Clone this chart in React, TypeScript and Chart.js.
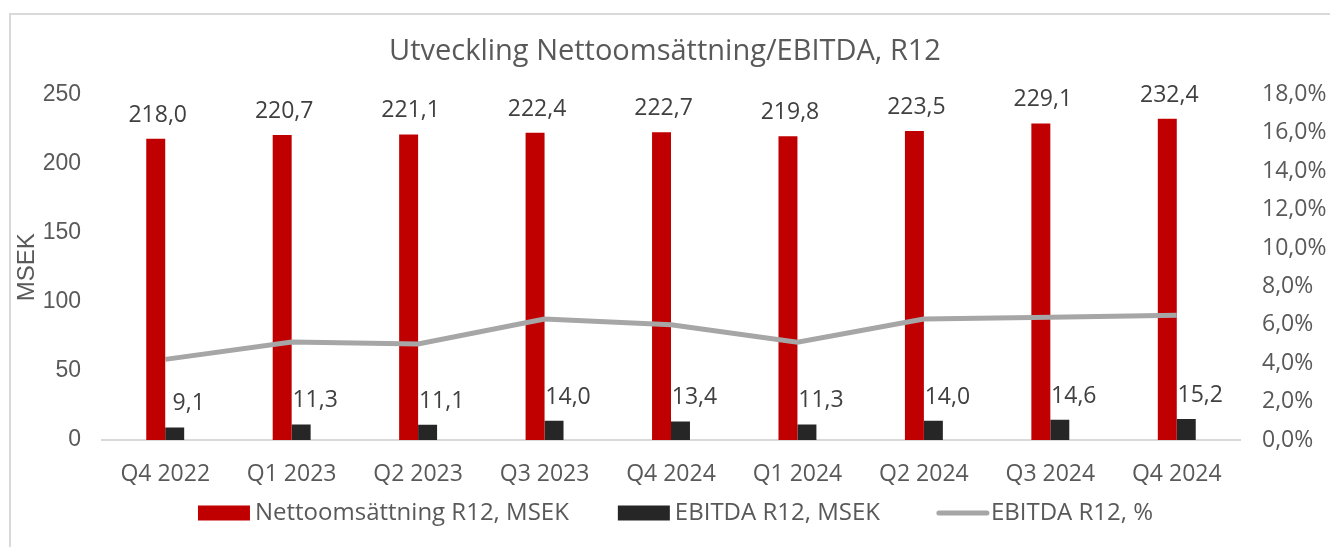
import React, { useEffect, useRef } from 'react';
import { Chart, registerables } from 'chart.js';

Chart.register(...registerables);

const categories = ['Q4 2022', 'Q1 2023', 'Q2 2023', 'Q3 2023', 'Q4 2024', 'Q1 2024', 'Q2 2024', 'Q3 2024', 'Q4 2024'];
const netSales = [218.0, 220.7, 221.1, 222.4, 222.7, 219.8, 223.5, 229.1, 232.4];
const ebitda = [9.1, 11.3, 11.1, 14.0, 13.4, 11.3, 14.0, 14.6, 15.2];
const ebitdaPct = [4.2, 5.1, 5.0, 6.3, 6.0, 5.1, 6.3, 6.4, 6.5];
const seriesNames = ['Nettoomsättning R12, MSEK', 'EBITDA R12, MSEK', 'EBITDA R12, %'];
const titleText = 'Utveckling Nettoomsättning/EBITDA, R12';
const leftAxisMax = 250;
const leftAxisStep = 50;
const rightAxisMax = 18;
const rightAxisStep = 2;

const RED = '#C00000';
const BLACK = '#262626';
const GREY = '#A6A6A6';
const TEXT = '#595959';
const LABEL = '#404040';
const FONT = "'Open Sans', 'Noto Sans', sans-serif";
const ARIAL = "'Liberation Sans', Arial, sans-serif";

const fmt = (v: number) => v.toFixed(1).replace('.', ',');

const framePlugin = {
  id: 'frame',
  beforeDraw(chart: any) {
    const ctx = chart.ctx;
    ctx.save();
    ctx.fillStyle = '#FFFFFF';
    ctx.fillRect(0, 0, chart.width, chart.height);
    ctx.fillStyle = '#D9D9D9';
    ctx.fillRect(9, 13, chart.width, 2);
    ctx.fillRect(9, 13, 2, chart.height);
    ctx.restore();
  },
};

const labelPlugin = {
  id: 'barLabels',
  afterDatasetsDraw(chart: any) {
    const ctx = chart.ctx;
    ctx.save();
    ctx.font = `23px ${FONT}`;
    ctx.fillStyle = LABEL;
    ctx.textAlign = 'center';
    ctx.textBaseline = 'alphabetic';
    [0, 1].forEach((di) => {
      const meta = chart.getDatasetMeta(di);
      const values = chart.data.datasets[di].data as number[];
      meta.data.forEach((el: any, i: number) => {
        const dx = di === 0 ? 2 : 14;
        ctx.fillText(fmt(values[i]), el.x + dx, el.y - 17);
      });
    });
    ctx.restore();
  },
};

const legendPlugin = {
  id: 'customLegend',
  afterDraw(chart: any) {
    const ctx = chart.ctx;
    ctx.save();
    ctx.font = `24px ${FONT}`;
    ctx.fillStyle = TEXT;
    ctx.textBaseline = 'middle';
    ctx.textAlign = 'left';
    const items = [
      { kind: 'box', color: RED, text: seriesNames[0], gap: 5, after: 49 },
      { kind: 'box', color: BLACK, text: seriesNames[1], gap: 5, after: 56 },
      { kind: 'line', color: GREY, text: seriesNames[2], gap: 3, after: 0 },
    ];
    const symW = 52;
    const widths = items.map((it) => symW + it.gap + ctx.measureText(it.text).width);
    const total = widths.reduce((a, b, i) => a + b + items[i].after, 0);
    const cy = 513;
    let x = 675.5 - total / 2;
    items.forEach((it, i) => {
      if (it.kind === 'box') {
        ctx.fillStyle = it.color;
        ctx.fillRect(x, cy - 7.5, symW, 15);
      } else {
        ctx.strokeStyle = it.color;
        ctx.lineWidth = 5;
        ctx.lineCap = 'round';
        ctx.beginPath();
        ctx.moveTo(x + 3, cy);
        ctx.lineTo(x + symW - 1, cy);
        ctx.stroke();
      }
      ctx.fillStyle = TEXT;
      ctx.fillText(it.text, x + symW + it.gap, cy);
      x += widths[i] + it.after;
    });
    ctx.restore();
  },
};

export default function App() {
  const ref = useRef<HTMLCanvasElement | null>(null);
  useEffect(() => {
    let chart: any = null;
    let cancelled = false;
    const build = () => {
      if (cancelled || !ref.current) return;
      chart = new Chart(ref.current, {
        type: 'bar',
        data: {
          labels: categories,
          datasets: [
            {
              type: 'bar',
              label: seriesNames[0],
              data: netSales,
              backgroundColor: RED,
              yAxisID: 'y',
              categoryPercentage: 0.3,
              barPercentage: 1,
              order: 1,
            },
            {
              type: 'bar',
              label: seriesNames[1],
              data: ebitda,
              backgroundColor: BLACK,
              yAxisID: 'y',
              categoryPercentage: 0.3,
              barPercentage: 1,
              order: 1,
            },
            {
              type: 'line',
              label: seriesNames[2],
              data: ebitdaPct,
              borderColor: GREY,
              backgroundColor: GREY,
              borderWidth: 5,
              pointRadius: 0,
              tension: 0,
              yAxisID: 'y1',
              order: 0,
            } as any,
          ],
        },
        options: {
          responsive: false,
          animation: false,
          layout: { padding: 0 },
          plugins: {
            legend: { display: false },
            tooltip: { enabled: false },
            title: {
              display: true,
              text: titleText,
              color: TEXT,
              font: { family: FONT, size: 29, weight: 'normal' },
              padding: { top: 34, bottom: 25.7 },
            },
          },
          scales: {
            x: {
              grid: { display: false, drawTicks: false },
              border: { display: true, color: '#D9D9D9', width: 2 },
              ticks: { color: TEXT, font: { family: FONT, size: 23 }, padding: 21 },
              afterFit: (s: any) => {
                s.height = 107;
              },
            },
            y: {
              position: 'left',
              min: 0,
              max: leftAxisMax,
              grid: { display: false, drawTicks: false },
              border: { display: false },
              ticks: {
                stepSize: leftAxisStep,
                color: TEXT,
                font: { family: ARIAL, size: 23 },
                padding: 21,
              },
              title: {
                display: true,
                text: 'MSEK',
                color: TEXT,
                font: { family: ARIAL, size: 24 },
                padding: { top: 13, bottom: 0 },
              },
              afterFit: (s: any) => {
                s.width = 102;
              },
            },
            y1: {
              position: 'right',
              min: 0,
              max: rightAxisMax,
              grid: { display: false, drawTicks: false },
              border: { display: false },
              ticks: {
                stepSize: rightAxisStep,
                color: TEXT,
                font: { family: FONT, size: 23 },
                padding: 22,
                callback: (v: any) => `${fmt(Number(v))}%`,
              },
              afterFit: (s: any) => {
                s.width = 90;
              },
            },
          },
        } as any,
        plugins: [framePlugin, labelPlugin, legendPlugin],
      });
    };
    const fonts: any = (document as any).fonts;
    if (fonts && fonts.load) {
      Promise.all([
        fonts.load("23px 'Open Sans'"),
        fonts.load("29px 'Open Sans'"),
        fonts.load("23px 'Liberation Sans'"),
      ])
        .catch(() => null)
        .then(() => build());
    } else {
      build();
    }
    return () => {
      cancelled = true;
      if (chart) chart.destroy();
    };
  }, []);
  return (
    <div style={{ position: 'absolute', left: 0, top: 0, width: 1330, height: 547, background: '#fff' }}>
      <canvas ref={ref} width={1330} height={547} style={{ display: 'block' }} />
    </div>
  );
}
